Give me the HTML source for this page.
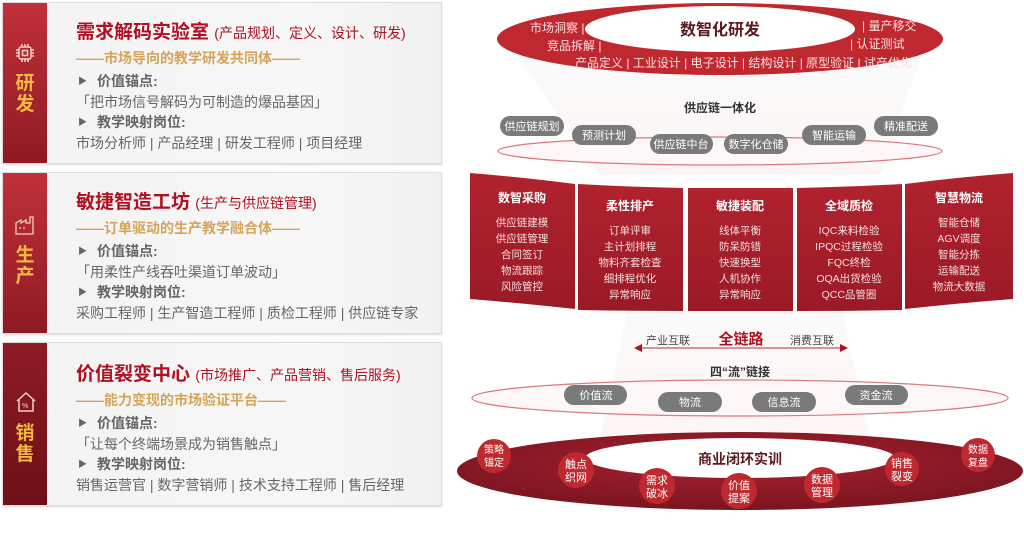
<!DOCTYPE html>
<html><head><meta charset="utf-8"><style>
*{margin:0;padding:0;box-sizing:border-box}
body{width:1024px;height:559px;background:#fff;position:relative;overflow:hidden;font-family:"Liberation Sans","Noto Sans CJK SC",sans-serif}
.card{position:absolute;left:2px;width:440px;background:linear-gradient(90deg,#f3f3f3,#f7f7f7 70%,#f1f1f1);border:1px solid #ddd;box-shadow:0 1px 2px rgba(0,0,0,.15)}
.band{position:absolute;left:0;top:0;bottom:0;width:44px;background:linear-gradient(180deg,#c0303a,#8e1a24)}
.band .lbl{position:absolute;left:0;width:44px;text-align:center;color:#f5b840;font-weight:bold;font-size:19px;line-height:21px}
.card .t{position:absolute;left:73px;white-space:nowrap}
.h{color:#b01020;font-weight:bold;font-size:19px}
.h small{font-size:14px;font-weight:normal}
.s{color:#d6a458;font-weight:bold;font-size:14px}
.k{color:#666;font-weight:bold;font-size:14px}
.k i{font-style:normal;font-size:9px;margin:0 10px 0 2px;vertical-align:2px}
.q{color:#666;font-size:14px}
</style></head><body>

<div class="card" style="top:2px;height:162px">
 <div class="band"><svg style="position:absolute;left:12px;top:40px" width="20" height="20" viewBox="0 0 20 20" fill="none" stroke="#f5d0c0" stroke-width="1.5"><rect x="4" y="4" width="12" height="12" rx="2"/><rect x="7.5" y="7.5" width="5" height="5"/><path d="M7 1v3M10 1v3M13 1v3M7 16v3M10 16v3M13 16v3M1 7h3M1 10h3M1 13h3M16 7h3M16 10h3M16 13h3"/></svg><div class="lbl" style="top:70px">研<br>发</div></div>
 <div class="t h" style="top:14px">需求解码实验室 <small>(产品规划、定义、设计、研发)</small></div>
 <div class="t s" style="top:45px">——市场导向的教学研发共同体——</div>
 <div class="t k" style="top:68px"><i>▶</i>价值锚点:</div>
 <div class="t q" style="top:89px">「把市场信号解码为可制造的爆品基因」</div>
 <div class="t k" style="top:109px"><i>▶</i>教学映射岗位:</div>
 <div class="t q" style="top:130px">市场分析师 | 产品经理 | 研发工程师 | 项目经理</div>
</div>

<div class="card" style="top:172px;height:162px">
 <div class="band"><svg style="position:absolute;left:12px;top:42px" width="22" height="20" viewBox="0 0 22 20" fill="none" stroke="#f5d0c0" stroke-width="1.3"><path d="M1 19V8l5-3v3l5-3v3h4V2h3v17z"/><path d="M4 13h2M8 13h2"/></svg><div class="lbl" style="top:72px">生<br>产</div></div>
 <div class="t h" style="top:14px">敏捷智造工坊 <small>(生产与供应链管理)</small></div>
 <div class="t s" style="top:45px">——订单驱动的生产教学融合体——</div>
 <div class="t k" style="top:68px"><i>▶</i>价值锚点:</div>
 <div class="t q" style="top:89px">「用柔性产线吞吐渠道订单波动」</div>
 <div class="t k" style="top:109px"><i>▶</i>教学映射岗位:</div>
 <div class="t q" style="top:130px">采购工程师 | 生产智造工程师 | 质检工程师 | 供应链专家</div>
</div>

<div class="card" style="top:342px;height:164px">
 <div class="band" style="background:linear-gradient(180deg,#8e1a24,#6e1018)"><svg style="position:absolute;left:12px;top:48px" width="22" height="22" viewBox="0 0 22 22" fill="none" stroke="#f5d0c0" stroke-width="1.5"><path d="M2 10L11 2l9 8M4 8v12h14V8"/><text x="7" y="17" font-size="7" fill="#f5d0c0" stroke="none">%</text></svg><div class="lbl" style="top:80px">销<br>售</div></div>
 <div class="t h" style="top:16px">价值裂变中心 <small>(市场推广、产品营销、售后服务)</small></div>
 <div class="t s" style="top:47px">——能力变现的市场验证平台——</div>
 <div class="t k" style="top:70px"><i>▶</i>价值锚点:</div>
 <div class="t q" style="top:91px">「让每个终端场景成为销售触点」</div>
 <div class="t k" style="top:111px"><i>▶</i>教学映射岗位:</div>
 <div class="t q" style="top:132px">销售运营官 | 数字营销师 | 技术支持工程师 | 售后经理</div>
</div>

<svg style="position:absolute;left:0;top:0" width="1024" height="559" font-family="Liberation Sans, Noto Sans CJK SC, sans-serif">
<defs>
<linearGradient id="fun" x1="0" y1="0" x2="0" y2="1"><stop offset="0" stop-color="#fafafa"/><stop offset="1" stop-color="#fdf5f5"/></linearGradient>
<linearGradient id="rp" x1="0" y1="0" x2="0" y2="1"><stop offset="0" stop-color="#b0222e"/><stop offset="1" stop-color="#9a1a26"/></linearGradient>
<radialGradient id="big" cx="0.5" cy="0.4" r="0.6"><stop offset="0" stop-color="#a82030"/><stop offset="1" stop-color="#7a1520"/></radialGradient>
</defs>
<path d="M520 60 L920 60 L880 175 L600 175Z" fill="url(#fun)"/>
<path d="M630 300 L840 300 L870 440 L600 440Z" fill="url(#fun)"/>
<ellipse cx="720" cy="39" rx="223" ry="36" fill="#c0282f"/>
<ellipse cx="720" cy="29" rx="135" ry="23" fill="#fff"/>
<text x="720" y="35" text-anchor="middle" font-size="16" font-weight="bold" fill="#5a1a1e">数智化研发</text>
<g font-size="12" fill="#fbe0e0">
<text x="530" y="32">市场洞察 |</text><text x="547" y="50">竞品拆解 |</text>
<text x="862" y="30">| 量产移交</text><text x="850" y="48">| 认证测试</text>
<text x="575" y="67">产品定义 | 工业设计 | 电子设计 | 结构设计 | 原型验证 | 试产优化</text>
</g>
<text x="720" y="112" text-anchor="middle" font-size="12" font-weight="bold" fill="#333">供应链一体化</text>
<ellipse cx="720" cy="151" rx="222" ry="14" fill="#fdf7f7" stroke="#d87a80" stroke-width="1.2"/>
<g font-size="11" fill="#fff" text-anchor="middle">
<rect x="500" y="116" width="64" height="20" rx="10" fill="#7a7a7a"/><text x="532" y="130">供应链规划</text>
<rect x="572" y="125" width="64" height="20" rx="10" fill="#7a7a7a"/><text x="604" y="139">预测计划</text>
<rect x="650" y="134" width="63" height="20" rx="10" fill="#7a7a7a"/><text x="681" y="148">供应链中台</text>
<rect x="724" y="134" width="64" height="20" rx="10" fill="#7a7a7a"/><text x="756" y="148">数字化仓储</text>
<rect x="802" y="125" width="64" height="20" rx="10" fill="#7a7a7a"/><text x="834" y="139">智能运输</text>
<rect x="874" y="116" width="64" height="20" rx="10" fill="#7a7a7a"/><text x="906" y="130">精准配送</text>
</g>
<g fill="url(#rp)">
<path d="M470 173 Q520 177 575 184 L575 309 Q520 303 470 299Z"/>
<path d="M578 184 Q630 187 683 188 L683 311 Q630 311 578 310Z"/>
<path d="M688 188 L793 188 L793 311 L688 311Z"/>
<path d="M797 188 Q850 187 902 184 L902 310 Q850 311 797 311Z"/>
<path d="M905 184 Q960 177 1013 173 L1013 299 Q960 303 905 309Z"/>
</g>
<g fill="#fff" text-anchor="middle">
<g font-size="12" font-weight="bold"><text x="522" y="202">数智采购</text><text x="630" y="210">柔性排产</text><text x="740" y="210">敏捷装配</text><text x="849" y="210">全域质检</text><text x="959" y="202">智慧物流</text></g>
<g font-size="10.5" fill="#f6dede">
<text x="522" y="226">供应链建模</text><text x="522" y="242">供应链管理</text><text x="522" y="258">合同签订</text><text x="522" y="274">物流跟踪</text><text x="522" y="290">风险管控</text>
<text x="630" y="234">订单评审</text><text x="630" y="250">主计划排程</text><text x="630" y="266">物料齐套检查</text><text x="630" y="282">细排程优化</text><text x="630" y="298">异常响应</text>
<text x="740" y="234">线体平衡</text><text x="740" y="250">防呆防错</text><text x="740" y="266">快速换型</text><text x="740" y="282">人机协作</text><text x="740" y="298">异常响应</text>
<text x="849" y="234">IQC来料检验</text><text x="849" y="250">IPQC过程检验</text><text x="849" y="266">FQC终检</text><text x="849" y="282">OQA出货检验</text><text x="849" y="298">QCC品管圈</text>
<text x="959" y="226">智能仓储</text><text x="959" y="242">AGV调度</text><text x="959" y="258">智能分拣</text><text x="959" y="274">运输配送</text><text x="959" y="290">物流大数据</text>
</g></g>
<text x="741" y="344" text-anchor="middle" font-size="15" font-weight="bold" fill="#b01020">全链路</text>
<text x="668" y="344" text-anchor="middle" font-size="11" fill="#444">产业互联</text>
<text x="812" y="344" text-anchor="middle" font-size="11" fill="#444">消费互联</text>
<line x1="640" y1="348" x2="842" y2="348" stroke="#d07078" stroke-width="1.5"/>
<path d="M634 348l8-4v8z M848 348l-8-4v8z" fill="#b01020"/>
<text x="740" y="376" text-anchor="middle" font-size="12" font-weight="bold" fill="#333">四“流”链接</text>
<ellipse cx="740" cy="398" rx="268" ry="18" fill="#fdf7f7" stroke="#d87a80" stroke-width="1.2"/>
<g font-size="11" fill="#fff" text-anchor="middle">
<rect x="564" y="385" width="63" height="20" rx="10" fill="#7a7a7a"/><text x="596" y="399">价值流</text>
<rect x="658" y="392" width="64" height="20" rx="10" fill="#7a7a7a"/><text x="690" y="406">物流</text>
<rect x="752" y="392" width="64" height="20" rx="10" fill="#7a7a7a"/><text x="784" y="406">信息流</text>
<rect x="845" y="385" width="63" height="20" rx="10" fill="#7a7a7a"/><text x="876" y="399">资金流</text>
</g>
<ellipse cx="740" cy="471" rx="283" ry="39" fill="url(#big)"/>
<ellipse cx="740" cy="458" rx="155" ry="20" fill="#fff"/>
<text x="740" y="464" text-anchor="middle" font-size="14" font-weight="bold" fill="#5a1a1e">商业闭环实训</text>
<g fill="#c0282f">
<circle cx="494" cy="456" r="17"/><circle cx="576" cy="470" r="18"/><circle cx="657" cy="486" r="18"/><circle cx="739" cy="491" r="18"/><circle cx="822" cy="485" r="18"/><circle cx="902" cy="469" r="17"/><circle cx="978" cy="455" r="17"/>
</g>
<g fill="#fff" text-anchor="middle" font-size="10">
<text x="494" y="453">策略</text><text x="494" y="466">锚定</text>
<text x="576" y="468" font-size="11">触点</text><text x="576" y="481" font-size="11">织网</text>
<text x="657" y="484" font-size="11">需求</text><text x="657" y="497" font-size="11">破冰</text>
<text x="739" y="489" font-size="11">价值</text><text x="739" y="502" font-size="11">提案</text>
<text x="822" y="483" font-size="11">数据</text><text x="822" y="496" font-size="11">管理</text>
<text x="902" y="467" font-size="11">销售</text><text x="902" y="480" font-size="11">裂变</text>
<text x="978" y="453">数据</text><text x="978" y="466">复盘</text>
</g>
</svg>
</body></html>
